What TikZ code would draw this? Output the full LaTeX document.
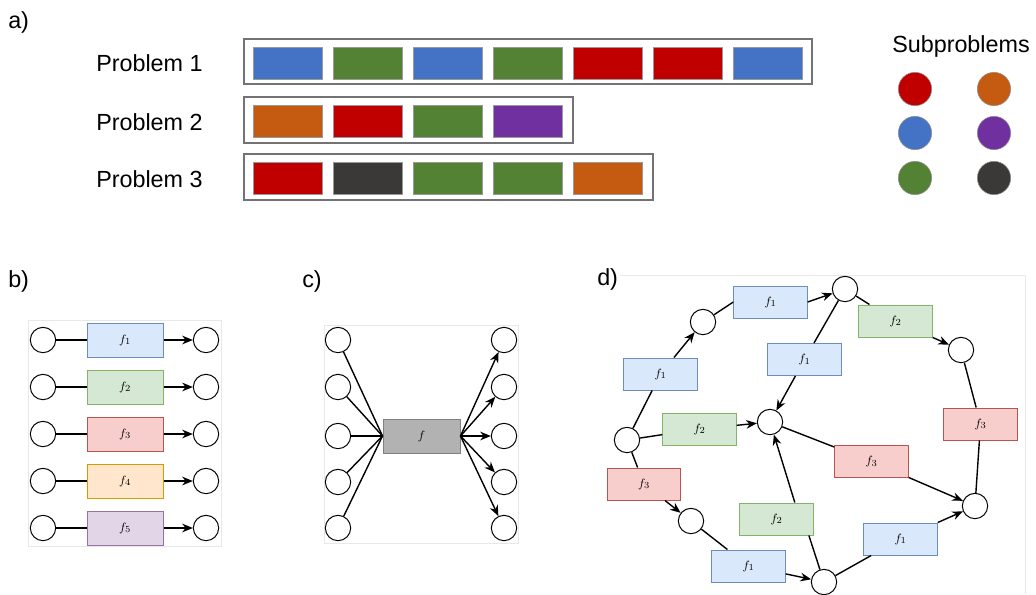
\documentclass[tikz,border=0pt]{standalone}
\usepackage{fontspec}
\setmainfont{Liberation Sans}
\usetikzlibrary{arrows.meta}

% subproblem colours
\definecolor{sblue}{HTML}{4472C4}
\definecolor{sgreen}{HTML}{548235}
\definecolor{sred}{HTML}{C00000}
\definecolor{sorange}{HTML}{C55A11}
\definecolor{spurple}{HTML}{7030A0}
\definecolor{sdark}{HTML}{3B3838}
% function box colours (fill / border)
\definecolor{fillblue}{HTML}{DAE8FC}   \definecolor{lineblue}{HTML}{6C8EBF}
\definecolor{fillgreen}{HTML}{D5E8D4}  \definecolor{linegreen}{HTML}{82B366}
\definecolor{fillred}{HTML}{F8CECC}    \definecolor{linered}{HTML}{B85450}
\definecolor{fillorange}{HTML}{FFE6CC} \definecolor{lineorange}{HTML}{D79B00}
\definecolor{fillpurple}{HTML}{E1D5E7} \definecolor{linepurple}{HTML}{9673A6}

\tikzset{
  panel/.style={font=\fontsize{17.5}{20}\selectfont, anchor=west, inner sep=0pt},
  state/.style={circle, draw, fill=white, line width=0.75pt, minimum size=19pt, inner sep=0pt},
  funcbox/.style={rectangle, draw=line#1, fill=fill#1, line width=0.75pt,
    minimum width=55pt, minimum height=24pt, inner sep=0pt, font=\fontsize{9.5}{10}\selectfont},
  link/.style={line width=1.05pt},
  frame/.style={draw=black!9, line width=0.6pt},
  chunk/.style={draw=black!40, line width=0.4pt},
  sub/.style={circle, draw=black!45, line width=0.4pt, minimum size=25pt, inner sep=0pt}
}

\begin{document}
\begin{tikzpicture}[x=0.75pt, y=-0.75pt, >={Stealth[length=8pt,width=6.5pt]}]
  \useasboundingbox (0,0) rectangle (1036,594);

  % a) problems made of subproblems
  \node[panel] (la) at (8,22) {a)};
  \node[panel] (p1) at (96,63) {Problem 1};
  \node[panel] (p2) at (96,122) {Problem 2};
  \node[panel] (p3) at (96,179) {Problem 3};
  \draw[black!55, line width=0.8pt] (244,39) rectangle (812,84);
  \draw[black!55, line width=0.8pt] (244,97) rectangle (573,143);
  \draw[black!55, line width=0.8pt] (244,154) rectangle (653,200);
  \foreach \c [count=\i from 0] in {sblue,sgreen,sblue,sgreen,sred,sred,sblue}
    \filldraw[chunk, fill=\c] (253+80*\i,47) rectangle ++(69,32);
  \foreach \c [count=\i from 0] in {sorange,sred,sgreen,spurple}
    \filldraw[chunk, fill=\c] (253+80*\i,105) rectangle ++(69,32);
  \foreach \c [count=\i from 0] in {sred,sdark,sgreen,sgreen,sorange}
    \filldraw[chunk, fill=\c] (253+80*\i,162) rectangle ++(69,32);

  % legend
  \node[font=\fontsize{17.5}{20}\selectfont] (leg) at (961,46) {Subproblems};
  \node[sub, fill=sred]    (s1) at (915,89) {};
  \node[sub, fill=sorange] (s2) at (994,89) {};
  \node[sub, fill=sblue]   (s3) at (915,133) {};
  \node[sub, fill=spurple] (s4) at (994,133) {};
  \node[sub, fill=sgreen]  (s5) at (915,178) {};
  \node[sub, fill=sdark]   (s6) at (994,178) {};

  % b) one function per input
  \node[panel] (lb) at (8,281) {b)};
  \draw[frame] (28,320) rectangle (221,546);
  \foreach \y/\c [count=\i] in {340/blue,387/green,434/red,481/orange,528/purple} {
    \node[state] (bl\i) at (43,\y) {};
    \node[funcbox=\c, minimum width=57pt, minimum height=25.5pt] (bf\i) at (125,\y) {$f_{\i}$};
    \node[state] (br\i) at (206,\y) {};
    \draw[link] (bl\i) -- (bf\i);
    \draw[link, ->] (bf\i) -- (br\i);
  }

  % c) one function for all inputs
  \node[panel] (lc) at (302,281) {c)};
  \draw[frame] (324,325) rectangle (518,543);
  \node[rectangle, draw=black!50, fill=black!30, line width=0.75pt, minimum width=57.75pt,
    minimum height=25.5pt, font=\fontsize{9.5}{10}\selectfont] (f) at (421.5,436) {$f$};
  \foreach \y [count=\i] in {340,387,436,482,528} {
    \node[state] (cl\i) at (338,\y) {};
    \node[state] (cr\i) at (504,\y) {};
    \draw[link] (cl\i) -- (f.west);
    \draw[link, ->] (f.east) -- (cr\i);
  }

  % d) shared functions on a graph
  \node[panel] (ld) at (597,279) {d)};
  \draw[frame] (620,275) -- (1025,275) -- (1025,594);
  \node[state] (n1) at (845,289) {};
  \node[state] (n2) at (703,322) {};
  \node[state] (n3) at (961,350) {};
  \node[state] (n4) at (770,422) {};
  \node[state] (n5) at (627,440) {};
  \node[state] (n6) at (975,506) {};
  \node[state] (n7) at (691,521) {};
  \node[state] (n8) at (824,582) {};

  \node[funcbox=blue]  (ga) at (770.5,302) {$f_1$};
  \node[funcbox=green] (gb) at (895.5,321) {$f_2$};
  \node[funcbox=blue]  (gc) at (804.5,359.5) {$f_1$};
  \node[funcbox=blue]  (gd) at (660.5,374) {$f_1$};
  \node[funcbox=green] (ge) at (699.5,429) {$f_2$};
  \node[funcbox=red]   (gf) at (980.5,424) {$f_3$};
  \node[funcbox=red]   (gg) at (871.5,461.5) {$f_3$};
  \node[funcbox=red]   (gh) at (644,484) {$f_3$};
  \node[funcbox=green] (gi) at (776.5,519) {$f_2$};
  \node[funcbox=blue]  (gj) at (900.5,539) {$f_1$};
  \node[funcbox=blue]  (gk) at (748.5,566) {$f_1$};

  \draw[link] (n2) -- (ga.west);  \draw[link, ->] (ga.east) -- (n1);
  \draw[link] (n1) -- (gb);  \draw[link, ->] (gb) -- (n3);
  \draw[link] (n1) -- (gc);  \draw[link, ->] (gc) -- (n4);
  \draw[link] (n5) -- (gd);  \draw[link, ->] (gd) -- (n2);
  \draw[link] (n5) -- (ge);  \draw[link, ->] (ge) -- (n4);
  \draw[link] (n3) -- (gf);  \draw[link] (gf) -- (n6);
  \draw[link] (n4) -- (gg);  \draw[link, ->] (gg) -- (n6);
  \draw[link] (n5) -- (gh);  \draw[link, ->] (gh) -- (n7);
  \draw[link] (n8) -- (gi.-27);  \draw[link, ->] (gi.42) -- (n4);
  \draw[link] (n8) -- (gj);  \draw[link, ->] (gj) -- (n6);
  \draw[link] (n7) -- (gk);  \draw[link, ->] (gk) -- (n8);

\end{tikzpicture}
\end{document}
